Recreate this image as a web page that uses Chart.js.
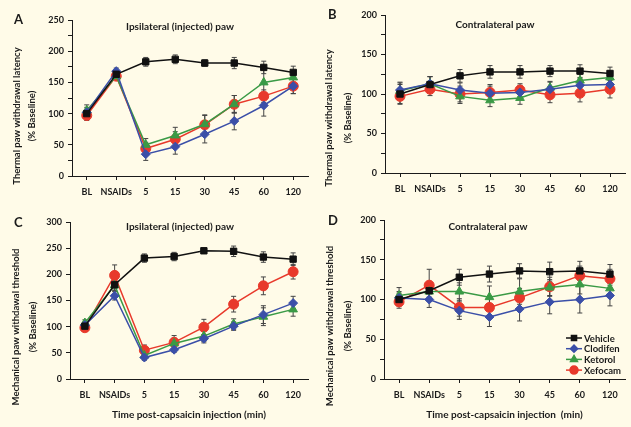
<!DOCTYPE html>
<html>
<head>
<meta charset="utf-8">
<title>Paw withdrawal after capsaicin injection</title>
<script src="https://cdn.jsdelivr.net/npm/chart.js@4.4.1/dist/chart.umd.min.js"></script>
<style>
  body { margin: 0; background: #fffbe8; }
  #wrap { position: relative; width: 631px; height: 427px; }
  canvas { position: absolute; }
</style>
</head>
<body>
<div id="wrap">
  <canvas id="panelA" width="315" height="210" style="left:0;top:0"></canvas>
  <canvas id="panelB" width="316" height="210" style="left:315px;top:0"></canvas>
  <canvas id="panelC" width="315" height="217" style="left:0;top:210px"></canvas>
  <canvas id="panelD" width="316" height="217" style="left:315px;top:210px"></canvas>
</div>
<script>
const categories = ['BL', 'NSAIDs', '5', '15', '30', '45', '60', '120'];
const seriesNames = ['Vehicle', 'Clodifen', 'Ketorol', 'Xefocam'];

// A: thermal latency, injected paw (% baseline, mean and SEM)
const thermalIpsiVehicle = [100, 163, 183, 187, 181, 181, 174, 166];
const thermalIpsiVehicleErr = [5, 4, 7, 7, 5, 9, 10, 10];
const thermalIpsiClodifen = [102, 168, 35, 47, 67, 88, 113, 144];
const thermalIpsiClodifenErr = [8, 5, 10, 12, 14, 14, 17, 12];
const thermalIpsiKetorol = [105, 160, 50, 65, 83, 115, 150, 158];
const thermalIpsiKetorolErr = [9, 5, 10, 13, 15, 14, 20, 10];
const thermalIpsiXefocam = [97, 160, 44, 59, 82, 115, 128, 144];
const thermalIpsiXefocamErr = [8, 5, 10, 12, 15, 14, 10, 12];

// B: thermal latency, contralateral paw
const thermalContraVehicle = [100, 112, 123, 128, 128, 129, 129, 126];
const thermalContraVehicleErr = [12, 10, 8, 8, 8, 7, 8, 8];
const thermalContraClodifen = [105, 113, 105, 101, 102, 106, 111, 112];
const thermalContraClodifenErr = [10, 9, 9, 9, 9, 9, 9, 9];
const thermalContraKetorol = [104, 113, 97, 92, 95, 108, 117, 121];
const thermalContraKetorolErr = [10, 9, 9, 8, 8, 8, 8, 8];
const thermalContraXefocam = [97, 106, 100, 102, 105, 99, 101, 106];
const thermalContraXefocamErr = [10, 8, 10, 10, 8, 10, 11, 11];

// C: mechanical threshold, injected paw
const mechIpsiVehicle = [101, 180, 231, 234, 245, 244, 233, 229];
const mechIpsiVehicleErr = [6, 8, 8, 8, 5, 10, 10, 12];
const mechIpsiClodifen = [103, 159, 41, 56, 77, 101, 123, 145];
const mechIpsiClodifenErr = [6, 8, 5, 5, 8, 8, 17, 13];
const mechIpsiKetorol = [107, 179, 45, 68, 82, 105, 119, 133];
const mechIpsiKetorolErr = [6, 10, 8, 10, 10, 10, 17, 13];
const mechIpsiXefocam = [98, 198, 55, 70, 99, 143, 178, 205];
const mechIpsiXefocamErr = [6, 20, 10, 13, 15, 15, 17, 14];

// D: mechanical threshold, contralateral paw
const mechContraVehicle = [100, 111, 128, 132, 136, 135, 136, 132];
const mechContraVehicleErr = [8, 8, 10, 10, 9, 12, 12, 12];
const mechContraClodifen = [102, 100, 86, 78, 88, 97, 100, 105];
const mechContraClodifenErr = [8, 10, 11, 12, 15, 15, 17, 13];
const mechContraKetorol = [105, 110, 110, 103, 110, 115, 119, 114];
const mechContraKetorolErr = [10, 10, 11, 14, 16, 10, 12, 10];
const mechContraXefocam = [97, 118, 90, 90, 102, 116, 130, 126];
const mechContraXefocamErr = [8, 20, 11, 11, 12, 12, 12, 12];

const FONT = 'Lato, "Open Sans", sans-serif';
const INK = '#1a1a1a';

const styles = [
  { color: '#111111', pointStyle: 'rect', radius: 4.5 },
  { color: '#3b4fa8', pointStyle: 'rectRot', radius: 4.5 },
  { color: '#3a9a45', pointStyle: 'triangle', radius: 5 },
  { color: '#e8392b', pointStyle: 'circle', radius: 5 },
];

// vertical SEM whiskers with short caps, drawn under the lines
const errorBars = {
  id: 'errorBars',
  beforeDatasetsDraw(chart) {
    const ctx = chart.ctx;
    const y = chart.scales.y;
    ctx.save();
    ctx.strokeStyle = '#444';
    ctx.lineWidth = 1;
    chart.data.datasets.forEach((ds, i) => {
      const meta = chart.getDatasetMeta(i);
      meta.data.forEach((pt, j) => {
        const e = ds.errors[j];
        const top = y.getPixelForValue(ds.data[j] + e);
        const bot = y.getPixelForValue(ds.data[j] - e);
        ctx.beginPath();
        ctx.moveTo(pt.x, top);
        ctx.lineTo(pt.x, bot);
        ctx.moveTo(pt.x - 2.5, top);
        ctx.lineTo(pt.x + 2.5, top);
        ctx.moveTo(pt.x - 2.5, bot);
        ctx.lineTo(pt.x + 2.5, bot);
        ctx.stroke();
      });
    });
    ctx.restore();
  }
};

// panel letter, title inside the plot and the two-line y-axis caption
const panelText = {
  id: 'panelText',
  afterDraw(chart, args, opts) {
    const ctx = chart.ctx;
    ctx.save();
    ctx.fillStyle = INK;
    ctx.textBaseline = 'middle';
    ctx.textAlign = 'left';
    ctx.font = 'bold 13px ' + FONT;
    ctx.fillText(opts.letter, opts.lx, opts.ly);
    ctx.textAlign = 'center';
    ctx.font = 'bold 10px ' + FONT;
    ctx.fillText(opts.title, opts.tx, opts.ty);

    ctx.font = 'bold 9.5px ' + FONT;
    opts.yTitle.forEach((line, i) => {
      ctx.save();
      ctx.translate(opts.yx[i], opts.yc);
      ctx.rotate(-Math.PI / 2);
      ctx.fillText(line, 0, 0);
      ctx.restore();
    });
    ctx.restore();
  }
};

// legend box in the lower right of panel D
const insetLegend = {
  id: 'insetLegend',
  afterDraw(chart, args, opts) {
    if (!opts.show) return;
    const ctx = chart.ctx;
    ctx.save();
    ctx.font = 'bold 9.5px ' + FONT;
    ctx.textBaseline = 'middle';
    ctx.textAlign = 'left';
    chart.data.datasets.forEach((ds, i) => {
      const yy = opts.y + i * opts.rowGap;
      ctx.strokeStyle = ds.borderColor;
      ctx.fillStyle = ds.borderColor;
      ctx.lineWidth = 1.5;
      ctx.beginPath();
      ctx.moveTo(opts.x, yy);
      ctx.lineTo(opts.x + 16, yy);
      ctx.stroke();
      Chart.helpers.drawPoint(ctx, {
        pointStyle: ds.pointStyle, radius: ds.pointRadius * 0.8, rotation: 0, borderWidth: 1
      }, opts.x + 8, yy);
      ctx.fillStyle = INK;
      ctx.fillText(ds.label, opts.x + 18, yy + 0.5);
    });
    ctx.restore();
  }
};

function makePanel(id, cfg) {
  const datasets = cfg.series.map((values, i) => ({
    label: seriesNames[i],
    data: values,
    errors: cfg.errors[i],
    borderColor: styles[i].color,
    backgroundColor: styles[i].color,
    pointStyle: styles[i].pointStyle,
    pointRadius: styles[i].radius,
    pointBorderWidth: 1,
    borderWidth: 1.5,
    tension: 0,
  }));

  new Chart(document.getElementById(id), {
    type: 'line',
    data: { labels: categories, datasets },
    options: {
      responsive: false,
      animation: false,
      layout: { padding: { top: cfg.top, right: cfg.right, left: 0, bottom: 0 } },
      plugins: {
        legend: { display: false },
        tooltip: { enabled: false },
        panelText: cfg.text,
        insetLegend: cfg.legend || { show: false },
      },
      scales: {
        x: {
          type: 'category',
          offset: true,
          afterFit: (s) => { s.height = cfg.bottom; },
          grid: { drawOnChartArea: false, offset: false, tickLength: 4, color: INK },
          border: { color: INK, width: 1 },
          ticks: { color: INK, autoSkip: false, maxRotation: 0, padding: 7, font: { family: FONT, weight: 'bold', size: 9 } },
          title: {
            display: !!cfg.xTitle,
            text: cfg.xTitle || '',
            color: INK,
            padding: { top: 4, bottom: 6 },
            font: { family: FONT, weight: 'bold', size: 10 }
          }
        },
        y: {
          min: 0,
          max: cfg.max,
          afterFit: (s) => { s.width = cfg.left; },
          grid: { drawOnChartArea: false, tickLength: 4, color: INK },
          border: { color: INK, width: 1 },
          ticks: {
            stepSize: 25,
            color: INK,
            padding: 4,
            font: { family: FONT, weight: 'bold', size: 9 },
            callback: (v) => (v % 50 === 0 ? v : '')
          }
        }
      }
    },
    plugins: [errorBars, panelText, insetLegend]
  });
}

const thermalCaption = ['Thermal paw withdrawal latency', '(% Baseline)'];

makePanel('panelA', {
  max: 250, top: 20, right: 7, left: 72, bottom: 34,
  series: [thermalIpsiVehicle, thermalIpsiClodifen, thermalIpsiKetorol, thermalIpsiXefocam],
  errors: [thermalIpsiVehicleErr, thermalIpsiClodifenErr, thermalIpsiKetorolErr, thermalIpsiXefocamErr],
  text: { letter: 'A', lx: 14, ly: 20, title: 'Ipsilateral (injected) paw', tx: 180, ty: 27,
          yTitle: thermalCaption, yx: [17, 32], yc: 116 }
});

makePanel('panelB', {
  max: 200, top: 15, right: 2, left: 70, bottom: 37,
  series: [thermalContraVehicle, thermalContraClodifen, thermalContraKetorol, thermalContraXefocam],
  errors: [thermalContraVehicleErr, thermalContraClodifenErr, thermalContraKetorolErr, thermalContraXefocamErr],
  text: { letter: 'B', lx: 13, ly: 15, title: 'Contralateral paw', tx: 180, ty: 25,
          yTitle: thermalCaption, yx: [14, 33], yc: 118 }
});

makePanel('panelC', {
  max: 300, top: 12, right: 7, left: 70, bottom: 48,
  series: [mechIpsiVehicle, mechIpsiClodifen, mechIpsiKetorol, mechIpsiXefocam],
  errors: [mechIpsiVehicleErr, mechIpsiClodifenErr, mechIpsiKetorolErr, mechIpsiXefocamErr],
  xTitle: 'Time post-capsaicin injection (min)',
  text: { letter: 'C', lx: 14, ly: 13, title: 'Ipsilateral (injected) paw', tx: 180, ty: 17,
          yTitle: ['Mechanical paw withdawal threshold', '(% Baseline)'], yx: [16, 33], yc: 117 }
});

makePanel('panelD', {
  max: 200, top: 10, right: 0, left: 69, bottom: 48,
  series: [mechContraVehicle, mechContraClodifen, mechContraKetorol, mechContraXefocam],
  errors: [mechContraVehicleErr, mechContraClodifenErr, mechContraKetorolErr, mechContraXefocamErr],
  xTitle: 'Time post-capsaicin injection  (min)',
  text: { letter: 'D', lx: 13, ly: 11, title: 'Contralateral paw', tx: 173, ty: 17,
          yTitle: ['Mechanical paw withdrawal threshold', '(% Baseline)'], yx: [15, 33], yc: 116 },
  legend: { show: true, x: 251, y: 128, rowGap: 10.7 }
});
</script>
</body>
</html>
